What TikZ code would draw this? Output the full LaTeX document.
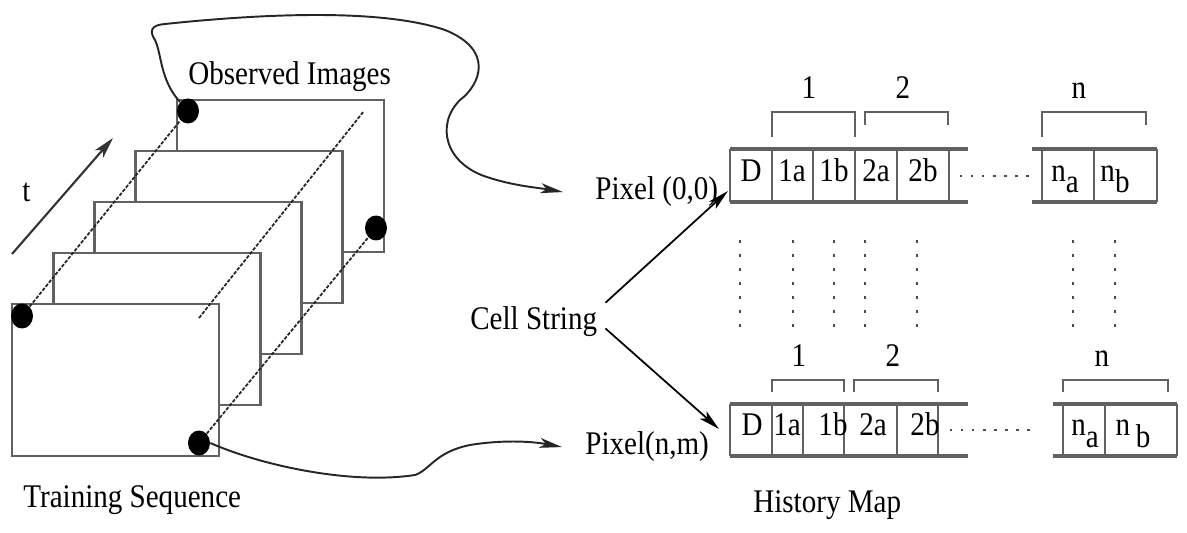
\documentclass[tikz,border=0pt]{standalone}
\usepackage{fontspec}
\setmainfont{Liberation Serif}[FakeStretch=0.88]
\usepackage{tikz}
\usetikzlibrary{arrows.meta, shapes.geometric}

\newcommand{\lowsub}[1]{\raisebox{-0.75ex}{#1}}

\begin{document}
\begin{tikzpicture}[
  x=0.02cm, y=-0.02cm,
  font=\fontsize{18.8}{22}\selectfont,
  imgFrame/.style={rectangle, draw=black!62, fill=white, line width=1.5pt, minimum width=4.14cm, minimum height=3.04cm, inner sep=0pt},
  pixDot/.style={ellipse, fill=black, minimum width=0.44cm, minimum height=0.5cm, inner sep=0pt},
  track/.style={draw=black!85, line width=1pt, dash pattern=on 2pt off 0.9pt},
  plainText/.style={inner sep=0pt, anchor=base west},
  cellText/.style={inner sep=0pt, text height=0.66em, text depth=0pt},
  rowEdge/.style={draw=black!62, line width=1.8pt},
  cellEdge/.style={draw=black!62, line width=1.1pt},
  groupBrace/.style={draw=black!62, line width=1.2pt},
  gapDots/.style={draw=black!70, line width=1.3pt, dash pattern=on 1.3pt off 5pt},
  colDots/.style={draw=black!70, line width=1.3pt, dash pattern=on 1.5pt off 6.5pt},
  flowLine/.style={draw=black!85, line width=1.1pt, -{Stealth[length=0.45cm, width=0.2cm, inset=0.12cm]}},
  cellArrow/.style={draw=black, line width=1pt, -{Stealth[length=0.42cm, width=0.2cm, inset=0.1cm]}}
]
  \useasboundingbox (0,0) rectangle (1187,533);

  % stack of frames, back to front
  \foreach \k in {4,3,2,1,0}
    \node[imgFrame] (img\k) at ({115.5+41.25*\k}, {380-51*\k}) {};

  \node[pixDot] (topFirst) at (22,316) {};
  \node[pixDot] (topLast) at (188,111) {};
  \node[pixDot] (botFirst) at (199,443) {};
  \node[pixDot] (botLast) at (376,228) {};
  \coordinate (midFirst) at (199,318);
  \coordinate (midLast) at (364,111);
  \draw[track] (topFirst) -- (topLast);
  \draw[track] (midFirst) -- (midLast);
  \draw[track] (botFirst) -- (botLast);

  \coordinate (tStart) at (12,254);
  \coordinate (tEnd) at (113,138);
  \draw[draw=black!80, line width=1.2pt, -{Stealth[length=0.42cm, width=0.22cm, inset=0.1cm]}] (tStart) -- (tEnd);
  \node[plainText] (tTxt) at (22,202) {t};

  \node[plainText] (obsTxt) at (188,85) {Observed Images};
  \node[plainText] (trainTxt) at (23,507) {Training Sequence};
  \node[plainText] (cellTxt) at (470,330) {Cell String};
  \node[plainText] (pixA) at (595,200) {Pixel (0,0)};
  \node[plainText] (pixB) at (585,455) {Pixel(n,m)};
  \node[plainText] (histTxt) at (753,512) {History Map};

  \draw[flowLine] (topLast.north west) .. controls (160,80) and (162,55) .. (155,40)
    .. controls (149,31) and (151,25) .. (165,24)
    .. controls (260,14) and (380,8) .. (445,30)
    .. controls (495,50) and (480,85) .. (460,100)
    .. controls (435,125) and (445,165) .. (490,178)
    .. controls (515,186) and (540,188) .. ([xshift=-0.64cm]pixA.west);
  \draw[flowLine] (botFirst.east) .. controls (260,465) and (350,485) .. (415,475)
    .. controls (430,470) and (435,452) .. (470,445)
    .. controls (500,440) and (530,441) .. ([xshift=-0.46cm]pixB.west);

  % upper cell string
  \draw[rowEdge] (730,149) -- (968,149) (730,202) -- (968,202)
                 (1032,149) -- (1157,149) (1032,202) -- (1157,202);
  \foreach \x in {730,772,813,855,897,949,1042,1094,1157}
    \draw[cellEdge] (\x,149) -- (\x,202);
  \foreach \x/\t in {751/D, 792/1a, 834/1b, 876/2a, 923/2b}
    \node[cellText] (up-\t) at (\x,175.5) {\t};
  \node[cellText] (up-na) at (1065,175.5) {n\lowsub{a}};
  \node[cellText] (up-nb) at (1115,175.5) {n\lowsub{b}};
  \draw[gapDots] (960,176) -- (1033,176);
  \draw[groupBrace] (772,137) |- (855,112) -- (855,137);
  \draw[groupBrace] (865,125) |- (948,112) -- (948,125);
  \draw[groupBrace] (1042,137) |- (1146,112) -- (1146,125);
  \node[plainText, anchor=base] (up-g1) at (809,99) {1};
  \node[plainText, anchor=base] (up-g2) at (903,99) {2};
  \node[plainText, anchor=base] (up-gn) at (1079,99) {n};

  \foreach \x in {740,793,834,865,917,1073,1115}
    \draw[colDots] (\x,240) -- (\x,327);

  % lower cell string
  \draw[rowEdge] (730,404) -- (968,404) (730,456) -- (968,456)
                 (1053,404) -- (1177,404) (1053,456) -- (1177,456);
  \foreach \x in {730,772,803,844,897,938,1063,1105,1177}
    \draw[cellEdge] (\x,404) -- (\x,456);
  \foreach \x/\t in {752/D, 787/1a, 833/1b, 873/2a, 925/2b}
    \node[cellText] (lo-\t) at (\x,430) {\t};
  \node[cellText] (lo-na) at (1085,430) {n\lowsub{a}};
  \node[cellText] (lo-nb) at (1133,430) {n\,\lowsub{b}};
  \draw[gapDots] (950,430) -- (1033,430);
  \draw[groupBrace] (772,392) |- (844,380) -- (844,392);
  \draw[groupBrace] (854,392) |- (938,380) -- (938,392);
  \draw[groupBrace] (1063,392) |- (1168,380) -- (1168,392);
  \node[plainText, anchor=base] (lo-g1) at (799,367) {1};
  \node[plainText, anchor=base] (lo-g2) at (893,367) {2};
  \node[plainText, anchor=base] (lo-gn) at (1102,367) {n};

  \coordinate (inA) at (728,191);
  \coordinate (inB) at (719,429);
  \draw[cellArrow] ([shift={(8,-4)}]cellTxt.north east) -- (inA);
  \draw[cellArrow] ([shift={(8,-9)}]cellTxt.south east) -- (inB);
\end{tikzpicture}
\end{document}
